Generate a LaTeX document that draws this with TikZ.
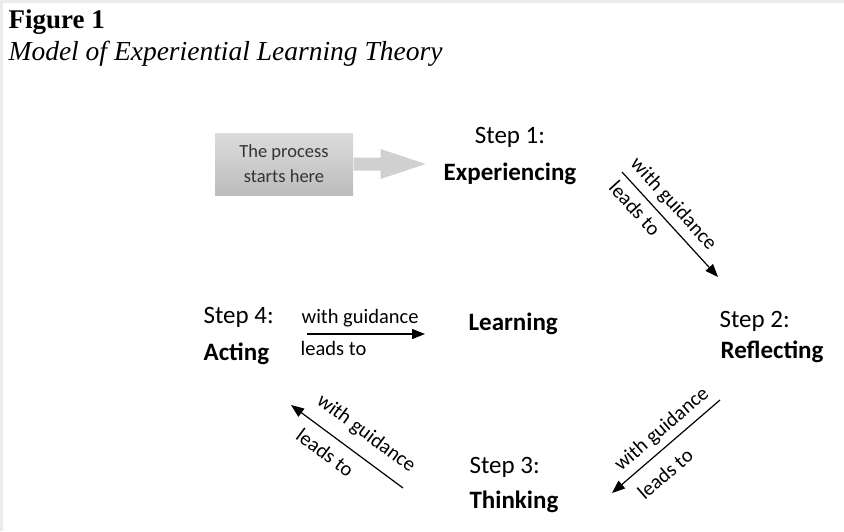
\documentclass[tikz,border=0pt]{standalone}
\usepackage{fontspec}
\setmainfont{Carlito}
\newfontfamily\captionserif{Liberation Serif}
\usetikzlibrary{arrows.meta,positioning}

\definecolor{boxtop}{HTML}{DCDCDC}
\definecolor{boxbottom}{HTML}{BCBCBC}
\definecolor{arrowgray}{HTML}{D0D0D0}
\definecolor{boxtext}{HTML}{333333}
\definecolor{scanedge}{HTML}{EBEBEB}

\begin{document}
\begin{tikzpicture}[x=1pt, y=-1pt, line width=1.2pt,
  every node/.style={inner sep=0pt},
  steptext/.style={font=\fontsize{25}{30}\selectfont, anchor=base west},
  stepname/.style={steptext, font=\fontsize{25}{30}\selectfont\bfseries},
  guide/.style={font=\fontsize{20.5}{24}\selectfont, sloped},
  flow/.style={-{Triangle[length=13pt,width=10pt]}}]
  \useasboundingbox (0,0) rectangle (844,531);
  % faint edges along the top and left
  \fill[scanedge] (0,0) rectangle (844,3);
  \fill[scanedge] (0,0) rectangle (3,531);

  % caption
  \node[anchor=base west, font=\captionserif\fontsize{27}{30}\selectfont\bfseries] (fig) at (8,28) {Figure 1};
  \node[anchor=base west, font=\captionserif\fontsize{27.5}{30}\selectfont\itshape] (ttl) at (8,60) {Model of Experiential Learning Theory};

  % starting box and its block arrow
  \node[minimum width=138pt, minimum height=62pt, top color=boxtop, bottom color=boxbottom,
        text=boxtext, align=center, font=\fontsize{18.5}{25}\selectfont] (start) at (284,164)
        {The process\\starts here};
  \fill[arrowgray] (start.east) ++(0,-6.5) -- ++(27,0) -- ++(0,-8.5) -- ++(45,15)
    -- ++(-45,15) -- ++(0,-8.5) -- ++(-27,0) -- cycle;

  % the four steps and the centre
  \node[steptext, anchor=base] (s1) at (510,143) {Step 1:};
  \node[stepname, anchor=base] (exp) at (510,180) {Experiencing};
  \node[steptext] (s2) at (719,327) {Step 2:};
  \node[stepname] (refl) at (720,358) {Reflecting};
  \node[steptext] (s3) at (469,473) {Step 3:};
  \node[stepname] (think) at (469,508) {Thinking};
  \node[steptext] (s4) at (203,323) {Step 4:};
  \node[stepname] (act) at (203,360) {Acting};
  \node[stepname] (learn) at (468,330) {Learning};

  % arrow end points
  \coordinate (a1s) at (622,172);  \coordinate (a1e) at (718,277);
  \coordinate (a2s) at (720,400);  \coordinate (a2e) at (612,493);
  \coordinate (a3s) at (403,488);  \coordinate (a3e) at (291,405);
  \coordinate (a4s) at (307,334);  \coordinate (a4e) at (425,334);

  % experiencing -> reflecting
  \draw[flow] (a1s) -- (a1e)
    node[guide, pos=0.41, above=6.5pt] {with guidance}
    node[guide, pos=0.25, below=7pt] {leads to};
  % reflecting -> thinking
  \draw[flow] (a2s) -- (a2e)
    node[guide, pos=0.444, above=6pt] {with guidance}
    node[guide, pos=0.63, below=12.5pt] {leads to};
  % thinking -> acting
  \draw[flow] (a3s) -- (a3e)
    node[guide, pos=0.444, above=12pt] {with guidance}
    node[guide, pos=0.60, below=10pt] {leads to};
  % acting -> learning
  \draw[flow] (a4s) -- (a4e)
    node[guide, pos=0.45, above=6pt] {with guidance}
    node[guide, pos=0.225, below=7pt] {leads to};
\end{tikzpicture}
\end{document}
